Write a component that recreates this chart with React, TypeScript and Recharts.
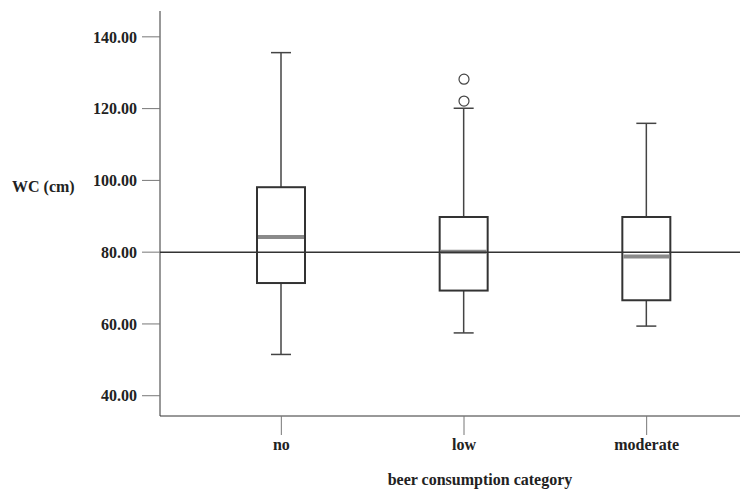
import {
  ComposedChart,
  Bar,
  Scatter,
  XAxis,
  YAxis,
  ReferenceLine,
} from "recharts";

const categories = ["no", "low", "moderate"];
const whiskerLow = [51.5, 57.5, 59.4];
const quartile1 = [71.4, 69.3, 66.6];
const medians = [84.2, 80.1, 78.8];
const quartile3 = [98.1, 89.8, 89.8];
const whiskerHigh = [135.6, 120.1, 115.9];
const outliers: (number | null)[][] = [
  [null, null],
  [128.2, 122.1],
  [null, null],
];
const yTicks = [40, 60, 80, 100, 120, 140];

const data = categories.map((cat, i) => ({
  cat,
  min: whiskerLow[i],
  q1: quartile1[i],
  median: medians[i],
  q3: quartile3[i],
  max: whiskerHigh[i],
  out1: outliers[i][0],
  out2: outliers[i][1],
}));

const FONT = "'Liberation Serif', 'Times New Roman', serif";
const INK = "#333";

const BoxShape = (props: any) => {
  const { x, y, width, height, payload } = props;
  if (payload == null) return null;
  const top = Math.min(y, y + height);
  const h = Math.abs(height);
  const span = payload.max - payload.min;
  const px = h / span;
  const toY = (v: number) => top + (payload.max - v) * px;
  const cx = x + width / 2;
  const cap = 10;
  const yQ3 = toY(payload.q3);
  const yQ1 = toY(payload.q1);
  const yMed = toY(payload.median);
  return (
    <g>
      <line x1={cx} x2={cx} y1={toY(payload.max)} y2={yQ3} stroke="#444" strokeWidth={1.5} />
      <line x1={cx} x2={cx} y1={yQ1} y2={toY(payload.min)} stroke="#444" strokeWidth={1.5} />
      <line x1={cx - cap} x2={cx + cap} y1={toY(payload.max)} y2={toY(payload.max)} stroke="#444" strokeWidth={1.5} />
      <line x1={cx - cap} x2={cx + cap} y1={toY(payload.min)} y2={toY(payload.min)} stroke="#444" strokeWidth={1.5} />
      <rect x={x} y={yQ3} width={width} height={yQ1 - yQ3} fill="#fff" stroke={INK} strokeWidth={2} />
      <line x1={x + 1} x2={x + width - 1} y1={yMed} y2={yMed} stroke="#8a8a8a" strokeWidth={4} />
    </g>
  );
};

const OutlierDot = (props: any) => {
  const { cx, cy, payload, dataKey } = props;
  if (payload == null || cy == null || Number.isNaN(cy)) return null;
  if (dataKey && payload[dataKey] == null) return null;
  return <circle cx={cx} cy={cy} r={5} fill="#fff" stroke="#444" strokeWidth={1.2} />;
};

export default function App() {
  return (
    <div style={{ position: "absolute", left: 0, top: 0, width: 740, height: 489, background: "#fff" }}>
      <ComposedChart
        width={740}
        height={489}
        data={data}
        margin={{ top: 11, right: 0, bottom: 0, left: 0 }}
      >
        <XAxis
          dataKey="cat"
          type="category"
          height={73}
          padding={{ left: 30, right: 2 }}
          tickSize={19}
          tickMargin={4}
          stroke={INK}
          tickLine={{ stroke: "#777" }}
          tick={{ fill: "#222", fontFamily: FONT, fontSize: 16, fontWeight: "bold" }}
          label={{
            value: "beer consumption category",
            position: "insideBottom",
            offset: 4,
            dx: 30,
            fill: "#222",
            fontFamily: FONT,
            fontSize: 16,
            fontWeight: "bold",
          }}
        />
        <YAxis
          type="number"
          domain={[34.35, 147.2]}
          ticks={yTicks}
          width={160}
          tickSize={18}
          tickMargin={5}
          stroke={INK}
          tickLine={{ stroke: "#777" }}
          tickFormatter={(v: number) => v.toFixed(2)}
          tick={{ fill: "#222", fontFamily: FONT, fontSize: 16, fontWeight: "bold" }}
          label={{
            value: "WC (cm)",
            position: "insideLeft",
            offset: 12,
            dy: -27,
            fill: "#222",
            fontFamily: FONT,
            fontSize: 16,
            fontWeight: "bold",
          }}
        />
        <ReferenceLine y={80} stroke={INK} strokeWidth={1.5} />
        <Bar
          dataKey={(d: any) => [d.min, d.max]}
          barSize={48}
          shape={<BoxShape />}
          isAnimationActive={false}
        />
        <Scatter dataKey="out1" shape={<OutlierDot dataKey="out1" />} isAnimationActive={false} />
        <Scatter dataKey="out2" shape={<OutlierDot dataKey="out2" />} isAnimationActive={false} />
      </ComposedChart>
    </div>
  );
}
